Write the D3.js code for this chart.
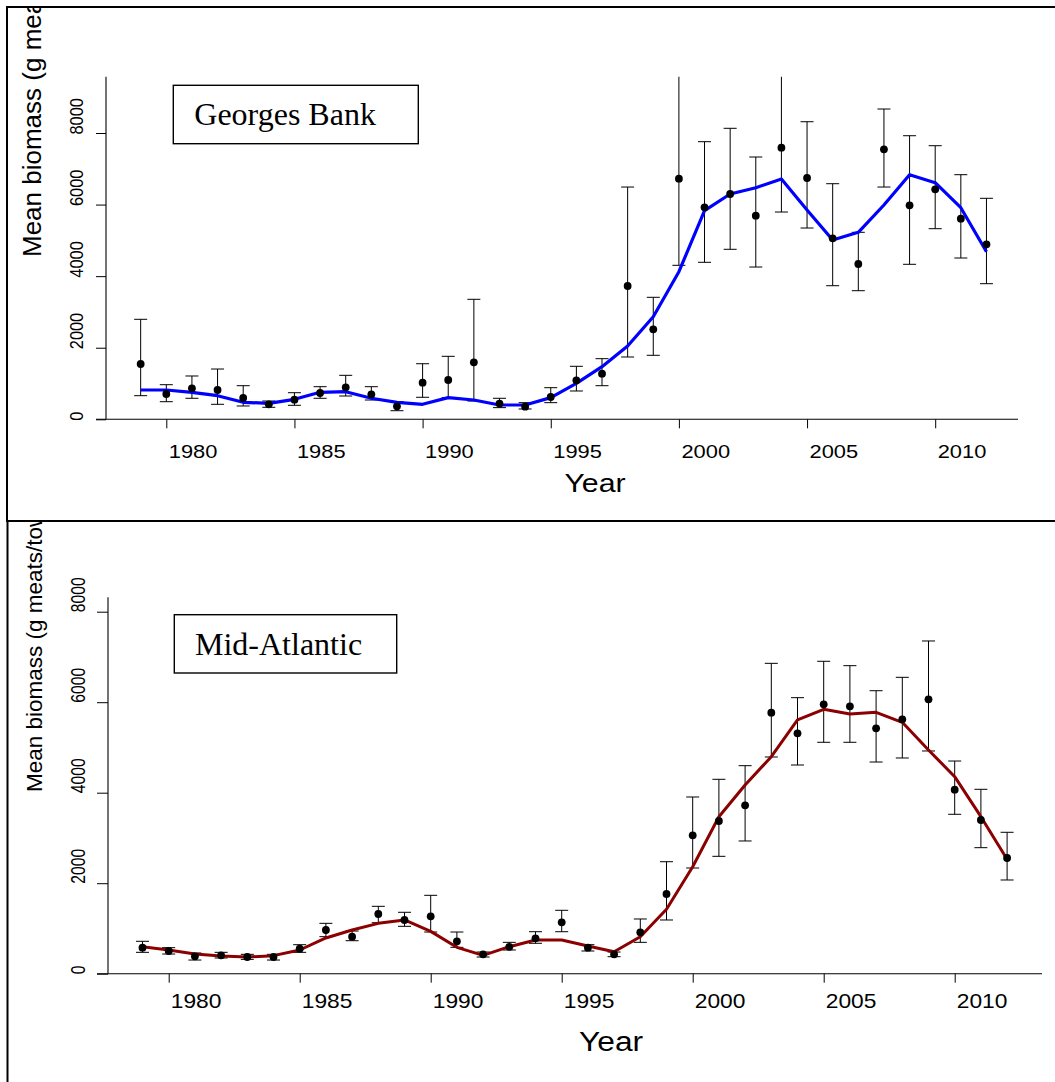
<!DOCTYPE html>
<html>
<head>
<meta charset="utf-8">
<script src="https://cdn.jsdelivr.net/npm/d3@7"></script>
<style>
  html, body { margin: 0; padding: 0; background: #fff; }
  svg { display: block; }
</style>
</head>
<body>
<svg id="chart" width="1055" height="1082"></svg>
<script>
// ---- data -------------------------------------------------------------
const years = [1979, 1980, 1981, 1982, 1983, 1984, 1985, 1986, 1987, 1988,
               1989, 1990, 1991, 1992, 1993, 1994, 1995, 1996, 1997, 1998,
               1999, 2000, 2001, 2002, 2003, 2004, 2005, 2006, 2007, 2008,
               2009, 2010, 2011, 2012];
const xTickYears = [1980, 1985, 1990, 1995, 2000, 2005, 2010];
const yTickValues = [0, 2000, 4000, 6000, 8000];
const yTitle = "Mean biomass (g meats/tow)";
const xTitle = "Year";

// Georges Bank: survey means, error-bar limits and fitted trend
const gbRegion = "Georges Bank";
const gbMean  = [1545, 707, 866, 819, 595, 419, 548, 735, 894, 698,
                 363, 1023, 1098, 1593, 440, 353, 623, 1090, 1275, 3725,
                 2515, 6723, 5923, 6295, 5689, 7589, 6742, 5057, 4339, 7544,
                 5979, 6426, 5605, 4890];
const gbLower = [660, 492, 587, 419, 372, 335, 391, 587, 651, 539,
                 240, 615, 605, 511, 326, 288, 465, 791, 939, 1741,
                 1788, 4303, 4387, 4750, 4255, 5792, 5345, 3733, 3593, 6490,
                 4331, 5326, 4507, 3789];
const gbUpper = [2794, 967, 1210, 1405, 939, 511, 743, 911, 1229, 911,
                 492, 1553, 1760, 3353, 587, 465, 883, 1481, 1694, 6490,
                 3409, 10800, 7757, 8131, 7329, 10400, 8315, 6583, 5225, 8670,
                 7924, 7645, 6835, 6175];
const gbFit   = [819, 819, 754, 660, 475, 447, 559, 754, 771, 587,
                 475, 419, 605, 539, 400, 400, 605, 1006, 1470, 2048,
                 2867, 4124, 5829, 6295, 6471, 6714, 5848, 5010, 5225, 5988,
                 6835, 6611, 5913, 4683];

// Mid-Atlantic: survey means, error-bar limits and fitted trend
const maRegion = "Mid-Atlantic";
const maMean  = [575, 502, 384, 406, 369, 369, 553, 966, 818, 1319,
                 1187, 1268, 716, 428, 594, 782, 1136, 575, 428, 915,
                 1761, 3058, 3375, 3721, 5768, 5313, 5954, 5909, 5423, 5622,
                 6064, 4066, 3397, 2557];
const maLower = [472, 435, 302, 347, 317, 302, 472, 818, 729, 1127,
                 1047, 921, 583, 369, 524, 672, 928, 502, 376, 693,
                 1187, 2336, 2594, 2933, 4789, 4612, 5114, 5114, 4678, 4767,
                 4922, 3523, 2785, 2071];
const maUpper = [716, 575, 457, 472, 428, 428, 641, 1113, 943, 1489,
                 1357, 1732, 921, 479, 693, 928, 1401, 641, 479, 1209,
                 2475, 3905, 4296, 4597, 6859, 6100, 6904, 6807, 6254, 6550,
                 7353, 4700, 4075, 3125];
const maFit   = [597, 524, 435, 391, 369, 399, 524, 790, 966, 1113,
                 1187, 936, 583, 406, 597, 745, 745, 612, 486, 818,
                 1423, 2365, 3470, 4170, 4796, 5607, 5843, 5739, 5777, 5556,
                 4944, 4354, 3470, 2528];

// ---- layout -----------------------------------------------------------
const SANS = "'Liberation Sans', Arial, Helvetica, sans-serif";
const SERIF = "'Liberation Serif', 'Times New Roman', Times, serif";

const panels = [
  {
    id: "gb", region: gbRegion, mean: gbMean, lower: gbLower, upper: gbUpper, fit: gbFit,
    color: "#0000ff", lineW: 3.2,
    frame: { x: 7, y: 7, w: 1070, h: 514 },
    xPix: [166.3, 935.2], yPix: [419.3, 133],
    axisLeft: 96, axisRight: 1018, axisTop: 76.7,
    xTick: { len: 9, dx: 2, base: 458, fs: 17.5, s: 1.25 },
    yTick: { len: 10, base: 83, dy: 1, fs: 16.4, s: 1.15 },
    xLab: { x: 564.4, y: 491.5, fs: 26, s: 1.165 },
    yLab: { x: 41, y: 257, fs: 26, s: 1.0 },
    box: { x: 173.3, y: 85.3, w: 245, h: 58.4, tx: 194.3, ty: 125, fs: 32 }
  },
  {
    id: "ma", region: maRegion, mean: maMean, lower: maLower, upper: maUpper, fit: maFit,
    color: "#8b0000", lineW: 3.0,
    frame: { x: 7.5, y: 521, w: 1070, h: 600 },
    xPix: [168.7, 954.7], yPix: [973.7, 611.7],
    axisLeft: 97, axisRight: 1042, axisTop: 597.3,
    xTick: { len: 9, dx: 1.5, base: 1008.3, fs: 20, s: 1.14 },
    yTick: { len: 11, base: 85, dy: 0, fs: 15.7, s: 1.3 },
    xLab: { x: 579, y: 1050.5, fs: 27.5, s: 1.155 },
    yLab: { x: 42, y: 792, fs: 22.5, s: 1.0 },
    box: { x: 174.3, y: 614.7, w: 222.4, h: 58.3, tx: 195, ty: 655, fs: 32 }
  }
];

// ---- drawing ----------------------------------------------------------
const svg = d3.select("#chart");
svg.append("rect").attr("width", 1055).attr("height", 1082).attr("fill", "#fff");
const defs = svg.append("defs");

panels.forEach(p => {
  const x = d3.scaleLinear().domain([1980, 2010]).range(p.xPix);
  const y = d3.scaleLinear().domain([0, 8000]).range(p.yPix);

  // clip regions: whole panel frame, and the plotting area above the x axis
  defs.append("clipPath").attr("id", `frame-${p.id}`)
    .append("rect").attr("x", p.frame.x).attr("y", p.frame.y)
    .attr("width", p.frame.w).attr("height", p.frame.h);
  defs.append("clipPath").attr("id", `plot-${p.id}`)
    .append("rect").attr("x", p.axisLeft).attr("y", p.axisTop)
    .attr("width", p.axisRight - p.axisLeft).attr("height", p.yPix[0] - p.axisTop + 20);

  const g = svg.append("g").attr("clip-path", `url(#frame-${p.id})`);

  // x axis
  const xAxis = d3.axisBottom(x).tickValues(xTickYears).tickSize(p.xTick.len)
    .tickSizeOuter(0).tickFormat(d3.format("d"));
  const gx = g.append("g").attr("transform", `translate(0,${p.yPix[0]})`).call(xAxis);
  gx.select(".domain").remove();
  gx.append("line").attr("x1", p.axisLeft).attr("x2", p.axisRight)
    .attr("y1", 0).attr("y2", 0).attr("stroke", "#000").attr("stroke-width", 1.1);
  gx.selectAll(".tick line").attr("stroke", "#000").attr("stroke-width", 1);
  gx.selectAll(".tick text")
    .attr("x", null).attr("y", null).attr("dy", null)
    .attr("text-anchor", "start")
    .attr("transform", `translate(${p.xTick.dx},${p.xTick.base - p.yPix[0]}) scale(${p.xTick.s},1)`)
    .attr("font-family", SANS).attr("font-size", p.xTick.fs).attr("fill", "#000");

  // y axis
  const yAxis = d3.axisLeft(y).tickValues(yTickValues).tickSize(p.yTick.len)
    .tickSizeOuter(0).tickFormat(d3.format("d"));
  const gy = g.append("g").attr("transform", `translate(${p.axisLeft + p.yTick.len},0)`).call(yAxis);
  const yAxisX = p.axisLeft + p.yTick.len;
  gy.select(".domain").remove();
  gy.append("line").attr("x1", 0).attr("x2", 0)
    .attr("y1", p.axisTop).attr("y2", p.yPix[0]).attr("stroke", "#000").attr("stroke-width", 1.1);
  gy.selectAll(".tick line").attr("stroke", "#000").attr("stroke-width", 1);
  gy.selectAll(".tick text")
    .attr("x", null).attr("y", null).attr("dy", null)
    .attr("text-anchor", "start")
    .attr("transform", `translate(${p.yTick.base - yAxisX},${p.yTick.dy}) scale(${p.yTick.s},1) rotate(-90)`)
    .attr("font-family", SANS).attr("font-size", p.yTick.fs).attr("fill", "#000");

  // axis titles
  g.append("text").text(xTitle)
    .attr("transform", `translate(${p.xLab.x},${p.xLab.y}) scale(${p.xLab.s},1)`)
    .attr("font-family", SANS).attr("font-size", p.xLab.fs).attr("fill", "#000");
  g.append("text").text(yTitle)
    .attr("text-anchor", "start")
    .attr("transform", `translate(${p.yLab.x},${p.yLab.y}) scale(${p.yLab.s},1) rotate(-90)`)
    .attr("font-family", SANS).attr("font-size", p.yLab.fs).attr("fill", "#000");

  // region label box
  g.append("rect").attr("x", p.box.x).attr("y", p.box.y)
    .attr("width", p.box.w).attr("height", p.box.h)
    .attr("fill", "none").attr("stroke", "#000").attr("stroke-width", 1.4);
  g.append("text").text(p.region)
    .attr("x", p.box.tx).attr("y", p.box.ty)
    .attr("font-family", SERIF).attr("font-size", p.box.fs).attr("fill", "#000");

  // plotted series
  const plot = g.append("g").attr("clip-path", `url(#plot-${p.id})`);
  const rows = years.map((yr, i) => ({
    year: yr, mean: p.mean[i], lower: p.lower[i], upper: p.upper[i], fit: p.fit[i]
  }));

  const capHalf = 6.5;
  const bars = plot.append("g").attr("stroke", "#000").attr("stroke-width", 1);
  bars.selectAll("line.stem").data(rows).join("line").attr("class", "stem")
    .attr("x1", d => x(d.year)).attr("x2", d => x(d.year))
    .attr("y1", d => y(d.lower)).attr("y2", d => y(d.upper));
  bars.selectAll("line.capHi").data(rows).join("line").attr("class", "capHi")
    .attr("x1", d => x(d.year) - capHalf).attr("x2", d => x(d.year) + capHalf)
    .attr("y1", d => y(d.upper)).attr("y2", d => y(d.upper));
  bars.selectAll("line.capLo").data(rows).join("line").attr("class", "capLo")
    .attr("x1", d => x(d.year) - capHalf).attr("x2", d => x(d.year) + capHalf)
    .attr("y1", d => y(d.lower)).attr("y2", d => y(d.lower));

  const line = d3.line().x(d => x(d.year)).y(d => y(d.fit));
  plot.append("path").datum(rows).attr("d", line)
    .attr("fill", "none").attr("stroke", p.color).attr("stroke-width", p.lineW)
    .attr("stroke-linejoin", "round");

  plot.selectAll("circle.pt").data(rows).join("circle").attr("class", "pt")
    .attr("cx", d => x(d.year)).attr("cy", d => y(d.mean)).attr("r", 3.9)
    .attr("fill", "#000");

  // panel frame
  svg.append("rect").attr("x", p.frame.x).attr("y", p.frame.y)
    .attr("width", p.frame.w).attr("height", p.frame.h)
    .attr("fill", "none").attr("stroke", "#000").attr("stroke-width", 2);
});
</script>
</body>
</html>
